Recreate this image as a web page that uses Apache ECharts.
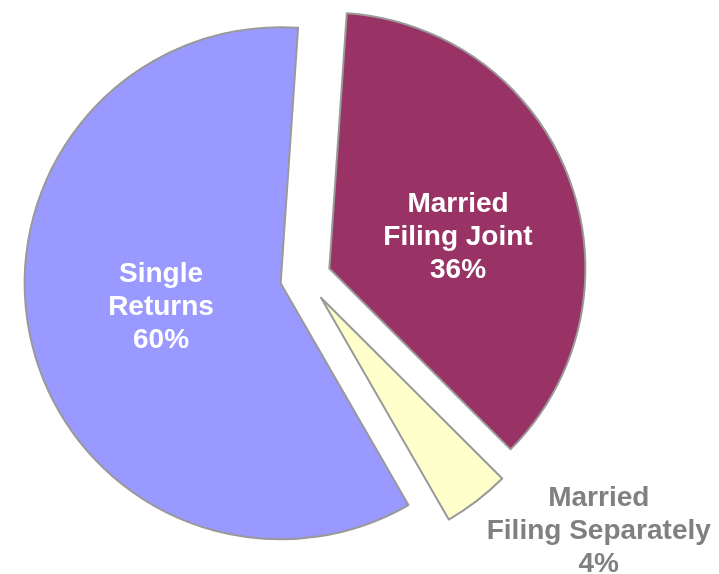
<!DOCTYPE html>
<html>
<head>
<meta charset="utf-8">
<script src="https://cdn.jsdelivr.net/npm/echarts@6/dist/echarts.min.js"></script>
<style>
  html, body { margin: 0; padding: 0; background: #fff; }
  #main { width: 719px; height: 574px; }
</style>
</head>
<body>
<div id="main"></div>
<script>
// categories and shares (percent of returns)
var categories = ['Married\nFiling Joint', 'Married\nFiling Separately', 'Single\nReturns'];
var shares = [36.4, 4.2, 59.4];
var percentLabels = ['36%', '4%', '60%'];
var colors = ['#993366', '#FFFFCC', '#9999FF'];
var labelColors = ['#ffffff', '#808080', '#ffffff'];
// nudges from the default inside label spot
var labelShift = [[6, 15], [198, 130], [8, -5]];

var chart = echarts.init(document.getElementById('main'));

var data = categories.map(function (name, i) {
  return {
    name: name,
    value: shares[i],
    selected: true,
    itemStyle: { color: colors[i] },
    label: { color: labelColors[i] }
  };
});

chart.setOption({
  animation: false,
  series: [{
    type: 'pie',
    center: [305.5, 277.5],
    radius: 256,
    startAngle: 86.1,
    clockwise: true,
    selectedMode: 'multiple',
    selectedOffset: 25.5,
    avoidLabelOverlap: false,
    itemStyle: {
      borderColor: '#999999',
      borderWidth: 2
    },
    label: {
      show: true,
      position: 'inside',
      formatter: function (p) {
        return p.name + '\n' + percentLabels[p.dataIndex];
      },
      fontFamily: 'Liberation Sans, Arial, sans-serif',
      fontWeight: 'bold',
      fontSize: 28,
      lineHeight: 33,
      align: 'center'
    },
    labelLayout: function (p) {
      return { dx: labelShift[p.dataIndex][0], dy: labelShift[p.dataIndex][1] };
    },
    labelLine: { show: false },
    emphasis: { disabled: true },
    data: data
  }]
});
</script>
</body>
</html>
